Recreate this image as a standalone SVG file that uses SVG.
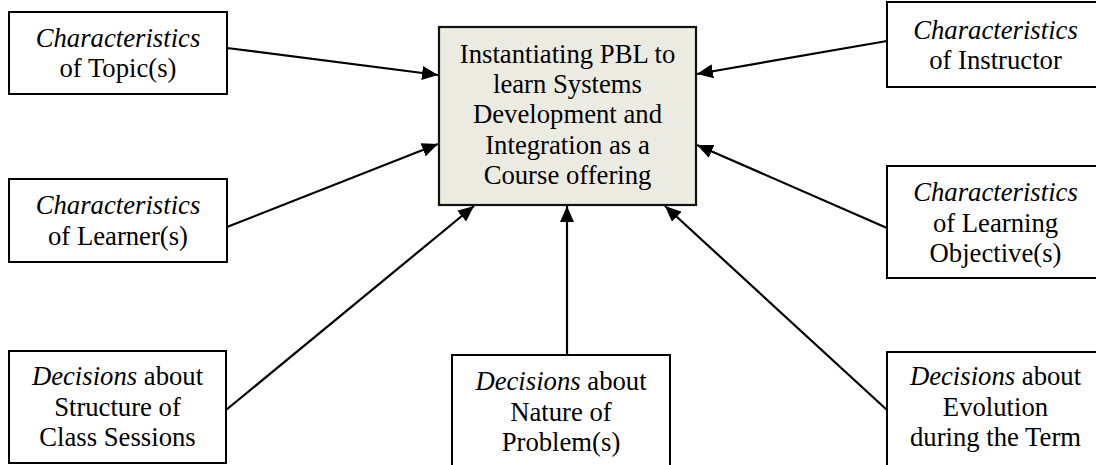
<svg xmlns="http://www.w3.org/2000/svg" width="1096" height="465" viewBox="0 0 1096 465">
<style>
.box{fill:#fff;stroke:#000;stroke-width:2}
.center{fill:#ecebe2;stroke:#111;stroke-width:2.2}
text{font-family:"Liberation Serif","Times New Roman",serif;font-size:26.7px;fill:#000;text-anchor:middle}
.i{font-style:italic}
.conn line{stroke:#000;stroke-width:2.2}
</style>
<defs>
<marker id="ah" markerUnits="userSpaceOnUse" markerWidth="18" markerHeight="14" refX="16" refY="7" orient="auto">
<path d="M0,0 L16,7 L0,14 z" fill="#000"/>
</marker>
</defs>
<rect width="1096" height="465" fill="#fff"/>
<g class="conn">
<line x1="227" y1="48" x2="438" y2="75" marker-end="url(#ah)"/>
<line x1="227" y1="227" x2="438" y2="144" marker-end="url(#ah)"/>
<line x1="226" y1="410" x2="474" y2="206" marker-end="url(#ah)"/>
<line x1="567" y1="355" x2="567" y2="206" marker-end="url(#ah)"/>
<line x1="887" y1="410" x2="665" y2="206" marker-end="url(#ah)"/>
<line x1="887" y1="41" x2="697" y2="74" marker-end="url(#ah)"/>
<line x1="887" y1="228" x2="697" y2="145" marker-end="url(#ah)"/>
</g>
<g id="center">
<rect class="center" x="439" y="27" width="257" height="178"/>
<text x="567.5" y="62.7">Instantiating PBL to</text>
<text x="567.5" y="93">learn Systems</text>
<text x="567.5" y="123.3">Development and</text>
<text x="567.5" y="153.6">Integration as a</text>
<text x="567.5" y="184">Course offering</text>
</g>
<g id="topic">
<rect class="box" x="9" y="12" width="218" height="82"/>
<text x="118" y="47" class="i">Characteristics</text>
<text x="118" y="77">of Topic(s)</text>
</g>
<g id="learner">
<rect class="box" x="9" y="179" width="218" height="83"/>
<text x="118" y="214" class="i">Characteristics</text>
<text x="118" y="244.5">of Learner(s)</text>
</g>
<g id="structure">
<rect class="box" x="9" y="351" width="217" height="112"/>
<text x="117.5" y="385"><tspan class="i">Decisions</tspan> about</text>
<text x="117.5" y="415.5">Structure of</text>
<text x="117.5" y="446">Class Sessions</text>
</g>
<g id="nature">
<rect class="box" x="452" y="355" width="218" height="120"/>
<text x="561" y="390"><tspan class="i">Decisions</tspan> about</text>
<text x="561" y="420.5">Nature of</text>
<text x="561" y="451">Problem(s)</text>
</g>
<g id="instructor">
<rect class="box" x="887" y="2" width="218" height="85"/>
<text x="995.5" y="38.5" class="i">Characteristics</text>
<text x="995.5" y="68.5">of Instructor</text>
</g>
<g id="objective">
<rect class="box" x="887" y="166" width="218" height="112"/>
<text x="995.5" y="201" class="i">Characteristics</text>
<text x="995.5" y="231.5">of Learning</text>
<text x="995.5" y="262">Objective(s)</text>
</g>
<g id="evolution">
<rect class="box" x="887" y="352" width="218" height="120"/>
<text x="995.5" y="385"><tspan class="i">Decisions</tspan> about</text>
<text x="995.5" y="415.5">Evolution</text>
<text x="995.5" y="446">during the Term</text>
</g>
</svg>
